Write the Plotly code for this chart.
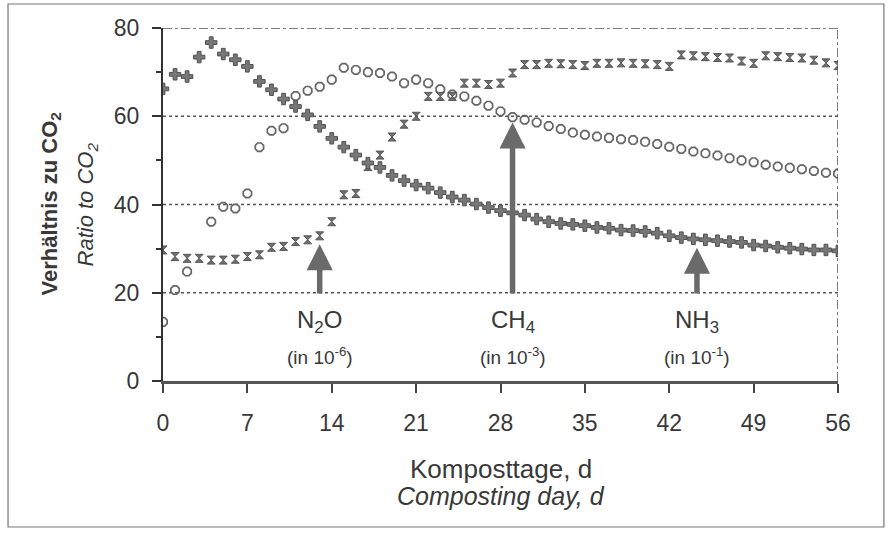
import plotly.graph_objects as go

# Composting day (0..56)
days = list(range(57))

# Ratio to CO2 for each gas (NH3 in 1e-1, CH4 in 1e-3, N2O in 1e-6)
nh3 = [66.2, 69.5, 69.0, 73.4, 76.7, 74.1, 72.8, 71.3, 67.9, 66.0,
       63.9, 62.2, 60.3, 57.7, 55.0, 53.0, 51.2, 49.4, 48.4, 46.6,
       45.4, 44.4, 43.7, 42.7, 41.7, 41.0, 40.1, 39.3, 38.6, 38.1,
       37.6, 36.7, 36.1, 35.7, 35.5, 35.2, 34.8, 34.6, 34.2, 34.1,
       33.9, 33.5, 32.9, 32.5, 32.2, 32.0, 31.8, 31.6, 31.4, 30.8,
       30.6, 30.3, 30.1, 29.9, 29.7, 29.7, 29.5]

ch4 = [13.4, 20.6, 24.8, None, 36.1, 39.5, 39.1, 42.5, 53.0, 56.7,
       57.3, 64.6, 65.8, 66.7, 68.3, 71.0, 70.5, 70.0, 69.8, 69.0,
       67.5, 68.3, 67.5, 66.1, 64.9, 64.5, 63.5, 62.4, 61.1, 59.8,
       59.2, 58.6, 57.8, 57.1, 56.3, 55.8, 55.4, 55.1, 54.8, 54.6,
       54.2, 53.7, 53.1, 52.6, 52.0, 51.6, 51.1, 50.5, 50.0, 49.6,
       49.0, 48.6, 48.3, 48.0, 47.6, 47.2, 47.0]

n2o = [29.7, 28.2, 27.8, 27.8, 27.4, 27.4, 27.6, 28.2, 28.6, 30.3,
       30.5, 31.6, 32.0, 32.9, 36.1, 42.2, 42.5, 48.6, 51.2, 55.3,
       58.2, 60.0, 64.5, 64.5, 64.5, 67.5, 67.5, 67.2, 67.5, 69.8,
       71.7, 71.7, 72.0, 71.9, 71.7, 71.5, 72.0, 72.0, 72.1, 72.0,
       71.9, 71.7, 71.3, 73.9, 73.7, 73.5, 73.3, 73.2, 72.5, 72.0,
       73.7, 73.5, 73.3, 73.2, 72.7, 72.1, 71.5]

# Gas labels with the day each arrow points at and the arrow tip height
gas_names = ["N<sub>2</sub>O", "CH<sub>4</sub>", "NH<sub>3</sub>"]
gas_units = ["(in 10<sup>-6</sup>)", "(in 10<sup>-3</sup>)", "(in 10<sup>-1</sup>)"]
arrow_day = [13, 29, 44.3]
arrow_tip = [31.0, 58.6, 30.2]
arrow_base = 19.5

x_ticks = [0, 7, 14, 21, 28, 35, 42, 49, 56]
y_ticks = [0, 20, 40, 60, 80]
grid_levels = [20, 40, 60]

FONT = "Liberation Sans, Arial, sans-serif"
TXT = "#383838"

fig = go.Figure()

fig.add_trace(go.Scatter(
    x=days, y=ch4, mode="markers", name="CH4",
    marker=dict(symbol="octagon-open", size=9, color="#666666",
                line=dict(width=1.7, color="#666666")),
))
fig.add_trace(go.Scatter(
    x=days, y=n2o, mode="markers", name="N2O",
    marker=dict(symbol="hourglass", size=8, color="#707070",
                line=dict(width=1, color="#555555")),
))
fig.add_trace(go.Scatter(
    x=days, y=nh3, mode="markers", name="NH3",
    marker=dict(symbol="cross", size=9.5, color="#777777",
                line=dict(width=1, color="#505050")),
))

shapes = []
for g in grid_levels:
    shapes.append(dict(type="line", xref="x", yref="y", x0=0, x1=56, y0=g, y1=g,
                       line=dict(color="#555555", width=1.5, dash="dot"), layer="below"))
# dash-dot frame on top and right
shapes.append(dict(type="line", xref="x", yref="y", x0=0, x1=56, y0=80, y1=80,
                   line=dict(color="#555555", width=1.5, dash="dashdot")))
shapes.append(dict(type="line", xref="x", yref="y", x0=56, x1=56, y0=0, y1=80,
                   line=dict(color="#555555", width=1.5, dash="dashdot")))
# outer border around the whole figure
shapes.append(dict(type="rect", xref="paper", yref="paper",
                   x0=-0.2296, x1=1.068, y0=-0.4136, y1=1.068,
                   line=dict(color="#777777", width=1.2)))

annotations = []
for name, unit, d, tip in zip(gas_names, gas_units, arrow_day, arrow_tip):
    annotations.append(dict(
        x=d, y=tip, ax=d, ay=arrow_base, xref="x", yref="y", axref="x", ayref="y",
        text="", showarrow=True, arrowhead=2, arrowsize=0.95, arrowwidth=5.5,
        arrowcolor="#6a6a6a", standoff=0,
    ))
    annotations.append(dict(
        x=d, y=13.5, xref="x", yref="y", text=name, showarrow=False,
        font=dict(family=FONT, size=24, color=TXT),
    ))
    annotations.append(dict(
        x=d, y=5.6, xref="x", yref="y", text=unit, showarrow=False,
        font=dict(family=FONT, size=19, color=TXT),
    ))

# axis titles (two languages)
annotations += [
    dict(x=-0.1674, y=0.5, xref="paper", yref="paper", textangle=-90,
         xanchor="center", yanchor="middle",
         text="<b>Verhältnis zu CO<sub>2</sub></b>", showarrow=False,
         font=dict(family=FONT, size=22, color=TXT)),
    dict(x=-0.1126, y=0.5, xref="paper", yref="paper", textangle=-90,
         xanchor="center", yanchor="middle",
         text="<i>Ratio to CO<sub>2</sub></i>", showarrow=False,
         font=dict(family=FONT, size=22, color=TXT)),
    dict(x=0.5, y=-0.25, xref="paper", yref="paper",
         xanchor="center", yanchor="middle",
         text="Komposttage, d", showarrow=False,
         font=dict(family=FONT, size=26, color=TXT)),
    dict(x=0.5, y=-0.325, xref="paper", yref="paper",
         xanchor="center", yanchor="middle",
         text="<i>Composting day, d</i>", showarrow=False,
         font=dict(family=FONT, size=25, color=TXT)),
]

fig.update_layout(
    width=890, height=533,
    margin=dict(l=163, r=52, t=28, b=152),
    paper_bgcolor="white", plot_bgcolor="white",
    showlegend=False,
    shapes=shapes, annotations=annotations,
    font=dict(family=FONT, color=TXT),
)
fig.update_xaxes(
    range=[0, 56], tickvals=x_ticks, showgrid=False, zeroline=False,
    showline=True, linecolor="#555555", linewidth=3,
    ticks="outside", ticklen=9, tickwidth=2, tickcolor="#444444",
    tickfont=dict(family=FONT, size=23, color=TXT), ticklabelstandoff=10,
)
fig.update_yaxes(
    range=[0, 80], tickvals=y_ticks, showgrid=False, zeroline=False,
    showline=True, linecolor="#333333", linewidth=2,
    ticks="outside", ticklen=9, tickwidth=2, tickcolor="#333333",
    minor=dict(ticks="outside", ticklen=5, tickwidth=1.5, dtick=10, tickcolor="#333333"),
    tickfont=dict(family=FONT, size=23, color=TXT), ticklabelstandoff=8,
)

fig.write_html("out.html")
